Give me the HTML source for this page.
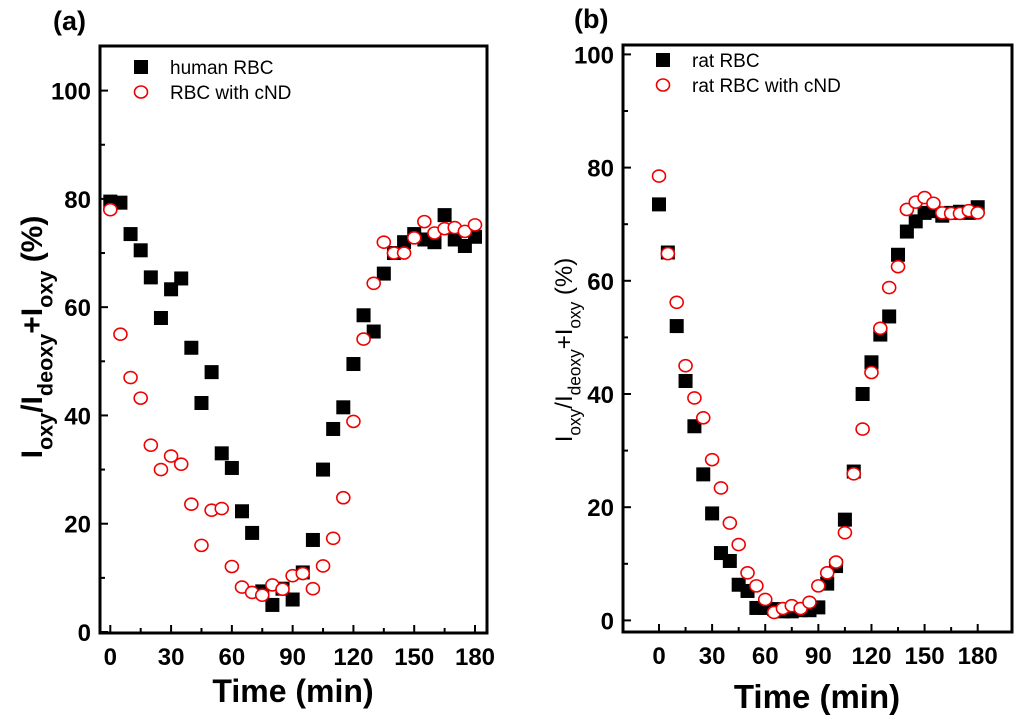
<!DOCTYPE html>
<html><head><meta charset="utf-8">
<style>
body{margin:0;background:#fff;}
svg{display:block;font-family:"Liberation Sans",Arial,sans-serif;}
</style></head>
<body>
<svg id="chart" width="1024" height="725" viewBox="0 0 1024 725">
<g id="pa"></g>
<g id="pb"></g>
</svg>
<script>
const times = [0,5,10,15,20,25,30,35,40,45,50,55,60,65,70,75,80,85,90,95,100,105,110,115,120,125,130,135,140,145,150,155,160,165,170,175,180];
const humanRBC = [79.5,79.3,73.5,70.5,65.5,58,63.3,65.3,52.5,42.3,48,33,30.3,22.3,18.3,7.5,5,8,6,11,17,30,37.5,41.5,49.5,58.5,55.5,66.2,70,72,73.5,72.5,72,77,72.5,71.3,73];
const humanCND = [78,55,47,43.2,34.5,30,32.5,31,23.6,16,22.5,22.8,12.1,8.3,7.3,6.8,8.7,7.9,10.4,10.8,8,12.2,17.3,24.8,38.9,54.1,64.4,72,70,70,72.8,75.8,73.7,74.5,74.7,74,75.2];
const ratRBC = [73.5,65,52,42.3,34.3,25.8,18.9,11.9,10.5,6.3,5.2,2.2,2.2,2,1.6,1.6,1.8,1.8,2.3,6.5,9.6,17.8,26.3,40,45.6,50.5,53.7,64.6,68.7,70.5,72,72.3,71.5,72,72.2,72,73];
const ratCND = [78.5,64.8,56.2,45,39.3,35.8,28.4,23.4,17.2,13.4,8.4,6.1,3.7,1.4,2.1,2.6,2.1,3.2,6.1,8.4,10.3,15.5,25.9,33.8,43.8,51.6,58.8,62.5,72.6,73.9,74.7,73.7,72,71.9,71.9,72.4,72];
const xTicks = [0,30,60,90,120,150,180];
const yTicksA = [0,20,40,60,80,100];
const yTicksB = [0,20,40,60,80,100];

const NS="http://www.w3.org/2000/svg";
function mk(parent,tag,attrs,text){const e=document.createElementNS(NS,tag);for(const k in attrs)e.setAttribute(k,attrs[k]);if(text!==undefined)e.textContent=text;parent.appendChild(e);return e;}

function panel(g,cfg){
  const sx=v=>cfg.x0+(v-cfg.xmin)*(cfg.x1-cfg.x0)/(cfg.xmax-cfg.xmin);
  const sy=v=>cfg.y0-(v-cfg.ymin)*(cfg.y0-cfg.y1)/(cfg.ymax-cfg.ymin);
  const L=cfg.left,R=cfg.right,T=cfg.top,B=cfg.bottom;
  const fr=mk(g,'rect',{x:L,y:T,width:R-L,height:B-T,fill:'none',stroke:'#000','stroke-width':3});
  
  
  for(let v=0;v<=180;v+=15){
    const major=v%30===0;
    const t=mk(g,'line',{x1:sx(v),x2:sx(v),y1:B,y2:B-(major?8:5),stroke:'#000','stroke-width':2});
    
    
  }
  xTicks.forEach(v=>{
    const t=mk(g,'text',{x:sx(v),y:cfg.xlabY,'text-anchor':'middle','font-size':24,'font-weight':'bold'},String(v));
    
    
  });
  for(let v=0;v<=100;v+=10){
    const major=v%20===0;
    const t=mk(g,'line',{x1:L,x2:L+(major?8:5),y1:sy(v),y2:sy(v),stroke:'#000','stroke-width':2});
    
    
  }
  cfg.yTicks.forEach(v=>{
    const t=mk(g,'text',{x:L-9,y:sy(v)+9,'text-anchor':'end','font-size':24,'font-weight':'bold'},String(v));
    
    
  });
  const xt=mk(g,'text',{x:cfg.xtX,y:cfg.xtY,'text-anchor':'middle','font-size':cfg.xtSize,'font-weight':'bold'},'Time (min)');
  
  
  const pl=mk(g,'text',{x:cfg.plX,y:cfg.plY,'font-size':27,'font-weight':'bold'},cfg.label);
  
  
  const yt=mk(g,'text',{transform:`translate(${cfg.ytX},${cfg.ytY}) rotate(-90)`,'text-anchor':'middle','font-size':cfg.ytSize,'font-weight':cfg.ytWeight});
  
  
  const sub=cfg.ytSize*0.72;
  const parts=[['I',0,cfg.ytSize],['oxy',1,sub],['/I',-1,cfg.ytSize],['deoxy',1,sub],['+I',-1,cfg.ytSize],['oxy',1,sub],[' (%)',-1,cfg.ytSize]];
  parts.forEach(p=>{
    const dy = p[1]===1? cfg.ytSize*0.35 : (p[1]===-1? -cfg.ytSize*0.35:0);
    mk(yt,'tspan',{dy:dy,'font-size':p[2]},p[0]);
  });
  function squares(vals,name){
    vals.forEach((v,i)=>{
      const r=mk(g,'rect',{x:sx(times[i])-7,y:sy(v)-7,width:14,height:14,fill:'#000'});
      
      
    });
  }
  function circles(vals,name){
    vals.forEach((v,i)=>{
      const c=mk(g,'ellipse',{cx:sx(times[i]),cy:sy(v),rx:6.5,ry:6,fill:'#fff',stroke:'#e00','stroke-width':1.6});
      
      
    });
  }
  squares(cfg.s1,'square-point');
  circles(cfg.s2,'circle-point');
  const lg=mk(g,'g',{});
  
  
  const r=mk(lg,'rect',{x:cfg.lgX-7,y:cfg.lgY-7,width:14,height:14,fill:'#000'});
  
  
  const c=mk(lg,'ellipse',{cx:cfg.lgX,cy:cfg.lgY+25,rx:6.5,ry:6,fill:'#fff',stroke:'#e00','stroke-width':1.6});
  
  
  const t1=mk(lg,'text',{x:cfg.lgX+29,y:cfg.lgY+7,'font-size':19},cfg.n1);
  
  
  const t2=mk(lg,'text',{x:cfg.lgX+29,y:cfg.lgY+32,'font-size':19},cfg.n2);
  
  
}

panel(document.getElementById('pa'),{
  left:100,right:487,top:46,bottom:633,
  x0:110.3,x1:475,xmin:0,xmax:180,
  y0:632,y1:90.6,ymin:0,ymax:100,
  yTicks:yTicksA,xlabY:665,xtX:293,xtY:702,xtSize:32,
  plX:53,plY:30,label:'(a)',
  ytX:42,ytY:337,ytSize:30,ytWeight:'bold',
  s1:humanRBC,s2:humanCND,lgX:141,lgY:67,n1:'human RBC',n2:'RBC with cND'
});
panel(document.getElementById('pb'),{
  left:623,right:1012,top:45,bottom:632,
  x0:659,x1:977.7,xmin:0,xmax:180,
  y0:620.4,y1:54.4,ymin:0,ymax:100,
  yTicks:yTicksB,xlabY:664,xtX:817,xtY:708,xtSize:33,
  plX:574,plY:28,label:'(b)',
  ytX:572,ytY:350,ytSize:24,ytWeight:'normal',
  s1:ratRBC,s2:ratCND,lgX:663,lgY:60,n1:'rat RBC',n2:'rat RBC with cND'
});
</script>
</body></html>
